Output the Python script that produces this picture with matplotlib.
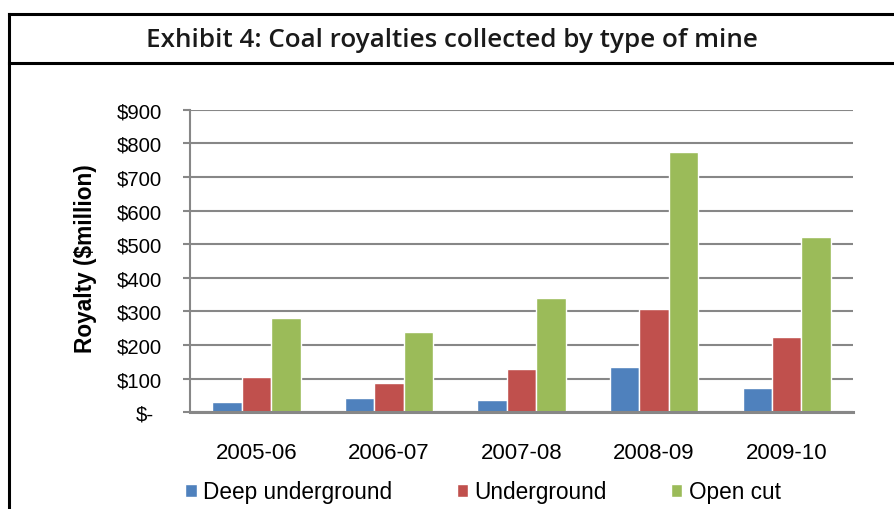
import numpy as np
from matplotlib import pyplot as plt
from matplotlib.lines import Line2D
from matplotlib.ticker import FuncFormatter

# data ($ million)
years = ['2005-06', '2006-07', '2007-08', '2008-09', '2009-10']
deep_underground = [32, 44, 37, 134, 71]
underground = [104, 87, 130, 306, 223]
open_cut = [281, 239, 340, 773, 521]

series = ['Deep underground', 'Underground', 'Open cut']
colours = ['#4F81BD', '#C0504D', '#9BBB59']

fig = plt.figure(figsize=(8.94, 5.10), dpi=100)
fig.patch.set_facecolor('white')

# frame around the exhibit
W, H = 894.0, 510.0
fig.add_artist(Line2D([8.5 / W, 8.5 / W], [0, 1 - 15 / H], color='black', lw=2.2))
fig.add_artist(Line2D([8.5 / W, 1.0], [1 - 15 / H, 1 - 15 / H], color='black', lw=2.2))
fig.add_artist(Line2D([8.5 / W, 1.0], [1 - 64 / H, 1 - 64 / H], color='black', lw=2.2))
fig.text(452 / W, 1 - 46.7 / H, 'Exhibit 4: Coal royalties collected by type of mine',
         ha='center', va='baseline', fontsize=18.7, family='Open Sans', weight='semibold',
         color='#1a1a1a')

ax = fig.add_axes([190 / W, 1 - 413.3 / H, (853 - 190) / W, (413.3 - 110.7) / H])

x = np.arange(len(years))
w = 1 / 4.5
for k, (vals, name, c) in enumerate(zip([deep_underground, underground, open_cut], series, colours)):
    ax.bar(x + (k - 1) * w, vals, width=w, color=c, edgecolor='white', linewidth=1.0,
           label=name, zorder=3)

ax.set_xlim(-0.5, len(years) - 0.5)
ax.set_ylim(0, 900)
ax.set_yticks(np.arange(0, 901, 100))
ax.yaxis.set_major_formatter(FuncFormatter(lambda v, p: '$-' if v == 0 else '${:.0f}'.format(v)))
ax.set_xticks(x)
ax.set_xticklabels(years)

ax.grid(axis='y', color='#878787', lw=1.5, zorder=0)
for s in ['top', 'right']:
    ax.spines[s].set_visible(False)
ax.spines['left'].set_color('#878787')
ax.spines['left'].set_linewidth(1.5)
ax.spines['bottom'].set_color('#878787')
ax.spines['bottom'].set_linewidth(2.2)
ax.spines['bottom'].set_zorder(4)
ax.tick_params(axis='y', length=5, width=1.5, color='#878787', labelsize=14.6, pad=15.5)
ax.tick_params(axis='x', length=0, labelsize=16, pad=21.5)
for t in ax.get_xticklabels() + ax.get_yticklabels():
    t.set_family('Liberation Sans')
# "$-" sits a little right in the reference
ax.get_yticklabels()[0].set_x(-0.012)

ax.set_ylabel('Royalty ($million)', family='Liberation Sans', weight='bold', fontsize=16.3,
              va='center')
ax.yaxis.set_label_coords(-0.158, 0.51)

leg = fig.legend(loc='center', bbox_to_anchor=(483 / W, 1 - 493 / H), ncol=3, frameon=False,
                 prop={'family': 'Liberation Sans', 'size': 16.3}, handlelength=0.5,
                 handleheight=0.5, handletextpad=0.28, columnspacing=2.85, borderpad=0)

fig.savefig('out.png', dpi=100, facecolor='white')
